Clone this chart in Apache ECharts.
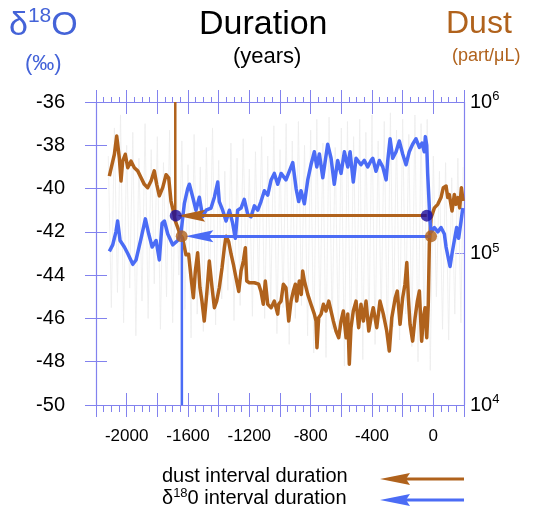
<!DOCTYPE html>
<html>
<head>
<meta charset="utf-8">
<script src="https://cdn.jsdelivr.net/npm/echarts@6/dist/echarts.min.js"></script>
<style>
  html, body { margin: 0; padding: 0; background: #fff; }
  #main { width: 541px; height: 508px; }
</style>
</head>
<body>
<div id="main"></div>
<script>
// δ18O record (‰), left axis
var d18oYears = [-2113, -2091, -2070, -2059, -2043, -2015, -1993, -1960, -1939, -1906, -1878, -1856, -1834, -1808, -1787, -1769, -1754, -1732, -1700, -1667, -1645, -1624, -1602, -1591, -1569, -1548, -1526, -1504, -1482, -1450, -1428, -1406, -1396, -1374, -1352, -1330, -1309, -1291, -1276, -1254, -1233, -1210, -1189, -1167, -1145, -1124, -1102, -1080, -1058, -1037, -1015, -993, -982, -961, -939, -917, -895, -878, -863, -841, -819, -798, -776, -760, -743, -721, -689, -667, -646, -624, -602, -580, -558, -543, -522, -504, -472, -450, -428, -406, -395, -374, -352, -330, -308, -297, -282, -265, -243, -222, -200, -178, -157, -135, -113, -91, -74, -59, -52, -43, -37, -26, -22, -15, 7, 29, 50, 72, 83, 100, 109, 122, 137, 152, 165, 181, 192];
var d18oValues = [-42.9, -42.6, -42.0, -41.5, -42.4, -42.7, -43.0, -43.5, -43.3, -42.3, -41.4, -42.1, -42.7, -42.4, -43.3, -41.6, -41.5, -42.1, -42.6, -42.4, -42.0, -40.7, -40.0, -39.8, -40.4, -41.0, -40.4, -41.3, -41.0, -40.9, -40.4, -39.7, -40.6, -41.0, -41.5, -41.0, -41.6, -42.3, -41.0, -40.9, -40.5, -41.2, -41.3, -40.8, -41.0, -40.6, -40.1, -40.3, -39.6, -39.3, -39.8, -39.3, -39.3, -39.6, -39.2, -38.8, -40.0, -40.6, -40.1, -40.7, -39.6, -38.9, -38.3, -39.0, -38.4, -39.5, -37.95, -38.6, -39.8, -38.7, -39.3, -38.3, -39.0, -38.3, -39.7, -38.6, -38.9, -38.7, -39.0, -38.7, -38.6, -39.2, -38.7, -39.0, -39.6, -38.7, -37.7, -38.6, -38.3, -37.8, -38.4, -38.9, -38.3, -37.95, -37.7, -38.1, -37.9, -38.3, -37.6, -38.0, -39.3, -40.9, -41.5, -42.0, -41.8, -42.0, -41.8, -42.1, -42.7, -43.3, -43.6, -43.0, -42.4, -41.8, -42.3, -41.5, -40.9];

// dust concentration (part/µL), right log axis
var dustYears = [-2113, -2095, -2080, -2065, -2056, -2048, -2037, -2026, -2009, -1993, -1972, -1950, -1928, -1906, -1885, -1863, -1841, -1820, -1804, -1787, -1765, -1743, -1726, -1711, -1696, -1683, -1667, -1652, -1635, -1613, -1596, -1580, -1565, -1552, -1537, -1522, -1509, -1494, -1478, -1461, -1443, -1428, -1413, -1396, -1378, -1363, -1352, -1335, -1319, -1304, -1287, -1269, -1254, -1239, -1226, -1217, -1200, -1167, -1139, -1124, -1109, -1096, -1080, -1058, -1037, -1015, -1009, -993, -978, -961, -943, -928, -913, -900, -891, -874, -861, -852, -841, -819, -798, -776, -765, -759, -748, -732, -717, -700, -682, -667, -652, -635, -617, -602, -587, -569, -558, -548, -537, -522, -504, -487, -472, -456, -439, -421, -406, -392, -369, -348, -326, -304, -287, -271, -248, -235, -217, -200, -185, -173, -163, -152, -135, -119, -104, -91, -76, -65, -54, -43, -33, -26, -22, -15, 7, 29, 50, 65, 83, 94, 104, 122, 137, 148, 161, 172, 183, 194];
var dustValues = [324000, 389000, 452000, 597000, 612000, 429000, 301000, 407000, 452000, 368000, 407000, 368000, 351000, 316000, 286000, 272000, 301000, 351000, 286000, 240000, 272000, 331000, 316000, 222000, 191000, 164000, 148000, 134000, 126000, 98000, 98900, 69200, 51100, 76700, 101000, 59400, 48500, 35800, 53700, 89100, 59400, 43900, 48500, 59400, 80500, 109000, 130000, 120000, 98900, 84900, 69200, 56200, 76700, 89100, 109000, 65800, 64100, 64100, 62700, 56200, 46200, 65800, 46200, 43900, 48500, 39800, 46200, 48500, 62700, 59400, 35800, 48500, 56500, 62700, 48500, 65800, 53700, 76700, 65800, 53700, 46200, 39800, 35800, 23900, 37700, 39800, 46200, 41700, 48500, 41700, 35800, 30800, 27800, 35800, 41700, 27800, 39800, 18600, 32400, 41700, 48500, 32400, 46200, 35800, 48500, 30800, 37700, 43900, 32400, 48500, 39800, 30800, 22700, 37700, 51100, 56500, 34100, 51100, 62700, 87100, 51100, 34100, 26400, 37700, 48500, 56500, 26400, 37700, 43900, 27800, 46200, 115000, 134000, 172000, 200000, 211000, 234000, 272000, 279000, 234000, 245000, 191000, 245000, 211000, 234000, 200000, 272000, 222000];

// faint high-resolution record behind (read on δ18O scale)
var grayYears = [-2120, -2100, -2080, -2060, -2040, -2020, -2000, -1980, -1960, -1940, -1920, -1900, -1880, -1860, -1840, -1820, -1800, -1780, -1760, -1740, -1720, -1700, -1680, -1660, -1640, -1620, -1600, -1580, -1560, -1540, -1520, -1500, -1480, -1460, -1440, -1420, -1400, -1380, -1360, -1340, -1320, -1300, -1280, -1260, -1240, -1220, -1200, -1180, -1160, -1140, -1120, -1100, -1080, -1060, -1040, -1020, -1000, -980, -960, -940, -920, -900, -880, -860, -840, -820, -800, -780, -760, -740, -720, -700, -680, -660, -640, -620, -600, -580, -560, -540, -520, -500, -480, -460, -440, -420, -400, -380, -360, -340, -320, -300, -280, -260, -240, -220, -200, -180, -160, -140, -120, -100, -80, -60, -40, -20, 0, 20, 40, 60, 80, 100, 120, 140, 160, 180, 195];
var grayValues = [-38.5, -45.5, -37.2, -44.8, -36.6, -46.2, -38.0, -44.6, -37.4, -46.8, -38.6, -45.2, -37.0, -46.0, -38.2, -44.4, -37.6, -46.5, -38.8, -45.0, -37.3, -46.2, -38.4, -44.0, -37.8, -45.6, -38.9, -46.9, -37.5, -45.8, -39.0, -46.6, -38.1, -44.9, -37.2, -46.3, -38.7, -45.1, -39.2, -44.7, -37.9, -46.1, -38.6, -45.4, -37.7, -44.2, -39.1, -45.9, -38.3, -44.6, -37.6, -46.0, -38.5, -45.3, -37.1, -46.7, -38.2, -45.5, -37.0, -47.2, -37.8, -46.0, -36.9, -45.4, -38.0, -46.8, -37.3, -47.6, -36.8, -46.2, -37.9, -47.8, -36.7, -46.5, -38.1, -47.0, -37.2, -48.2, -36.9, -47.4, -37.6, -46.3, -36.8, -47.9, -37.4, -46.6, -36.6, -47.2, -37.8, -46.0, -36.9, -47.5, -36.5, -46.4, -37.3, -47.0, -36.8, -45.8, -37.5, -47.3, -36.6, -48.0, -37.0, -46.8, -36.8, -48.4, -38.5, -45.0, -39.2, -46.5, -38.8, -47.0, -39.5, -45.8, -38.6, -46.2, -39.0];

// interval arrows: [right end, left end, arrow tip, level on δ18O scale]
var dustInterval = [-43, -1680, -1670, -41.25];
var d18oInterval = [-15, -1641, -1617, -42.2];
var dustOnsetYear = -1683;
var d18oOnsetYear = -1640;

var BLUE = '#4b6cf5';
var BROWN = '#b0621c';
var NAVY = '#1c0c9c';
var AXIS = '#8282ee';
var TITLE_BLUE = '#4463d8';
var FONT = 'Liberation Sans, Arial, Helvetica, sans-serif';
var ARROW = 'path://M0,0 L12,30 L0,25 L-12,30 Z';
var ARROW_HALF = 91; // half arrowhead length in years (symbol is centred on the end point)

function pairs(xs, ys) {
  var out = [];
  xs.forEach(function (x, i) { out.push([x, ys[i]]); });
  return out;
}

function arrowSeries(iv, color) {
  return {
    type: 'line', data: [[iv[0], iv[3]], [iv[1], iv[3]]],
    showSymbol: false, z: 6, lineStyle: {width: 0},
    markLine: {
      silent: true, symbol: ['none', ARROW], symbolSize: [12, 28],
      label: {show: false},
      lineStyle: {color: color, width: 3, type: 'solid'},
      data: [[{coord: [iv[0], iv[3]]}, {coord: [iv[2] + ARROW_HALF, iv[3]]}]]
    }
  };
}

var myChart = echarts.init(document.getElementById('main'));

function xAx(pos, inside, showLine, showLabel, minorLen) {
  return {
    type: 'value', position: pos, min: -2200, max: 200, interval: 200,
    axisLine: {show: showLine, onZero: false, lineStyle: {color: AXIS, width: 1.2}},
    axisTick: {show: true, inside: inside, length: 12, lineStyle: {color: AXIS, width: 1}},
    minorTick: {show: minorLen > 0, splitNumber: 4, length: minorLen, lineStyle: {color: AXIS, width: 1}},
    axisLabel: {
      show: showLabel, margin: 23, color: '#000', fontSize: 17, fontFamily: FONT,
      formatter: function (v) { return (v % 400 === 0 && v > -2200 && v < 200) ? String(v) : ''; }
    },
    splitLine: {show: false}
  };
}

myChart.setOption({
  backgroundColor: '#fff',
  animation: false,
  grid: {left: 96, right: 77, top: 102, bottom: 103},
  xAxis: [
    xAx('bottom', false, true, true, 7),
    xAx('bottom', true, false, false, 0),
    xAx('top', false, true, false, 5),
    xAx('top', true, false, false, 0)
  ],
  yAxis: [
    {
      type: 'value', position: 'left', min: -50, max: -36, interval: 2,
      axisLine: {show: true, onZero: false, lineStyle: {color: AXIS, width: 1.2}},
      axisTick: {show: true, length: 11, lineStyle: {color: AXIS}},
      axisLabel: {margin: 31, color: '#000', fontSize: 20, fontFamily: FONT},
      splitLine: {show: false}
    },
    {
      type: 'log', logBase: 10, position: 'right', min: 10000, max: 1000000,
      axisLine: {show: true, onZero: false, lineStyle: {color: AXIS, width: 1.2}},
      axisTick: {show: true, inside: true, length: 9, lineStyle: {color: AXIS}},
      axisLabel: {
        margin: 6, color: '#000', fontFamily: FONT,
        formatter: function (v) { return '{b|10}{s|' + Math.round(Math.log10(v)) + '}'; },
        rich: {
          b: {fontSize: 20, fontFamily: FONT, color: '#000', lineHeight: 24},
          s: {fontSize: 13, fontFamily: FONT, color: '#000', verticalAlign: 'top', lineHeight: 15}
        }
      },
      splitLine: {show: false}
    },
    {
      type: 'value', position: 'left', min: -50, max: -36, interval: 2,
      axisLine: {show: false, onZero: false},
      axisTick: {show: true, inside: true, length: 11, lineStyle: {color: AXIS}},
      axisLabel: {show: false},
      splitLine: {show: false}
    }
  ],
  series: [
    {
      type: 'line', name: 'gray', data: pairs(grayYears, grayValues), showSymbol: false, z: 1,
      lineStyle: {color: '#ececec', width: 0.8}, silent: true
    },
    {
      type: 'line', name: 'dust', yAxisIndex: 1, data: pairs(dustYears, dustValues), showSymbol: false, z: 3,
      lineStyle: {color: BROWN, width: 3.5, join: 'round'}
    },
    {
      type: 'line', name: 'd18O', yAxisIndex: 0, data: pairs(d18oYears, d18oValues), showSymbol: false, z: 4,
      lineStyle: {color: BLUE, width: 3.5, join: 'round'}
    },
    {
      type: 'line', name: 'dust onset', data: [[dustOnsetYear, -36], [dustOnsetYear, dustInterval[3]]], showSymbol: false, z: 5,
      lineStyle: {color: BROWN, width: 2.5}
    },
    {
      type: 'line', name: 'd18O onset', data: [[d18oOnsetYear, d18oInterval[3]], [d18oOnsetYear, -50]], showSymbol: false, z: 5,
      lineStyle: {color: BLUE, width: 2.5}
    },
    arrowSeries(dustInterval, BROWN),
    arrowSeries(d18oInterval, BLUE),
    {
      type: 'scatter', name: 'dust ends', symbolSize: 12, z: 7,
      itemStyle: {color: NAVY},
      data: [[dustInterval[0], dustInterval[3]], [dustInterval[1], dustInterval[3]]]
    },
    {
      type: 'scatter', name: 'd18O ends', symbolSize: 12, z: 7,
      itemStyle: {color: BROWN},
      data: [[d18oInterval[0], d18oInterval[3]], [d18oInterval[1], d18oInterval[3]]]
    }
  ],
  graphic: [
    {
      type: 'text', left: 9, top: 6,
      style: {
        text: '{a|δ}{b|18}{a|O}',
        rich: {
          a: {fontSize: 34, fontFamily: FONT, fill: TITLE_BLUE, lineHeight: 40},
          b: {fontSize: 21, fontFamily: FONT, fill: TITLE_BLUE, verticalAlign: 'top', lineHeight: 25}
        }
      }
    },
    {type: 'text', left: 25, top: 53, style: {text: '(‰)', fontSize: 22, fontFamily: FONT, fill: TITLE_BLUE}},
    {type: 'text', left: 199, top: 8, style: {text: 'Duration', fontSize: 34, fontFamily: FONT, fill: '#000'}},
    {type: 'text', left: 233, top: 46, style: {text: '(years)', fontSize: 22, fontFamily: FONT, fill: '#000'}},
    {type: 'text', left: 446, top: 8, style: {text: 'Dust', fontSize: 32, fontFamily: FONT, fill: BROWN}},
    {type: 'text', left: 452, top: 47, style: {text: '(part/μL)', fontSize: 18, fontFamily: FONT, fill: BROWN}},
    {type: 'text', left: 162, top: 466, style: {text: 'dust interval duration', fontSize: 20, fontFamily: FONT, fill: '#000'}},
    {
      type: 'text', left: 162, top: 487,
      style: {
        text: '{a|δ}{b|18}{a|0 interval duration}',
        rich: {
          a: {fontSize: 20, fontFamily: FONT, fill: '#000', lineHeight: 23},
          b: {fontSize: 13, fontFamily: FONT, fill: '#000', verticalAlign: 'top', lineHeight: 15}
        }
      }
    },
    {type: 'line', shape: {x1: 400, y1: 479, x2: 464, y2: 479}, style: {stroke: BROWN, lineWidth: 3}},
    {type: 'polygon', shape: {points: [[380, 479], [410, 473], [406, 479], [410, 485]]}, style: {fill: BROWN}},
    {type: 'line', shape: {x1: 400, y1: 500, x2: 464, y2: 500}, style: {stroke: BLUE, lineWidth: 3}},
    {type: 'polygon', shape: {points: [[380, 500], [410, 494], [406, 500], [410, 506]]}, style: {fill: BLUE}}
  ]
});
</script>
</body>
</html>
